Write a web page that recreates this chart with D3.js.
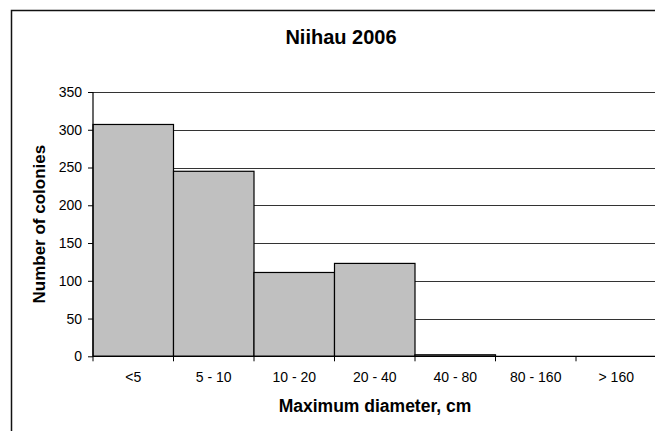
<!DOCTYPE html>
<html>
<head>
<meta charset="utf-8">
<script src="https://cdn.jsdelivr.net/npm/d3@7"></script>
<style>
  html, body { margin: 0; padding: 0; background: #fff; }
  svg { display: block; font-family: "Liberation Sans", Arial, sans-serif; }
</style>
</head>
<body>
<svg id="chart" width="655" height="431"></svg>
<script>
// Colony size classes (maximum diameter, cm) and counts
const categories = ["<5", "5 - 10", "10 - 20", "20 - 40", "40 - 80", "80 - 160", "> 160"];
const colonies = [307, 245, 111, 123, 2, 0, 0];
const yTicks = [0, 50, 100, 150, 200, 250, 300, 350];

const chartTitle = "Niihau 2006";
const xTitle = "Maximum diameter, cm";
const yTitle = "Number of colonies";

const svg = d3.select("#chart");

const plot = { left: 93, right: 656.5, top: 92, bottom: 356.3 };

const x = d3.scaleBand()
  .domain(categories)
  .range([plot.left, plot.right])
  .padding(0);

const y = d3.scaleLinear()
  .domain([0, 350])
  .range([plot.bottom, plot.top]);

// Outer chart frame
svg.append("rect")
  .attr("x", 11.5).attr("y", 10.5)
  .attr("width", 660).attr("height", 440)
  .attr("fill", "none")
  .attr("stroke", "#111")
  .attr("stroke-width", 1.5);

// Horizontal gridlines
svg.append("g")
  .selectAll("line")
  .data(yTicks.filter(d => d > 0))
  .join("line")
  .attr("x1", plot.left).attr("x2", plot.right)
  .attr("y1", d => Math.round(y(d)) + 0.5)
  .attr("y2", d => Math.round(y(d)) + 0.5)
  .attr("stroke", "#333")
  .attr("stroke-width", 1.2);

// Bars
svg.append("g")
  .selectAll("rect")
  .data(categories.map((c, i) => ({ c, v: colonies[i] })))
  .join("rect")
  .attr("x", d => x(d.c))
  .attr("y", d => y(d.v))
  .attr("width", x.bandwidth())
  .attr("height", d => y(0) - y(d.v))
  .attr("fill", "#c0c0c0")
  .attr("stroke", "#000")
  .attr("stroke-width", 1.2);

// Y axis
const yAxis = svg.append("g")
  .attr("transform", `translate(${plot.left},0)`)
  .call(d3.axisLeft(y).tickValues(yTicks).tickSize(5).tickPadding(6).tickFormat(d3.format("d")));
yAxis.select(".domain").attr("stroke", "#000").attr("stroke-width", 1.2).attr("d", `M0,${plot.top}V${plot.bottom}`);
yAxis.selectAll(".tick line").attr("stroke", "#000");
yAxis.selectAll(".tick text")
  .attr("font-size", 14)
  .attr("font-family", "Liberation Sans, Arial, sans-serif")
  .attr("fill", "#000");

// X axis: ticks at category boundaries
const boundaries = categories.map(c => x(c)).concat([plot.right]);
const xAxisG = svg.append("g");
xAxisG.append("line")
  .attr("x1", plot.left).attr("x2", plot.right)
  .attr("y1", plot.bottom).attr("y2", plot.bottom)
  .attr("stroke", "#000").attr("stroke-width", 1.2);
xAxisG.selectAll("line.tk")
  .data(boundaries)
  .join("line")
  .attr("class", "tk")
  .attr("x1", d => d).attr("x2", d => d)
  .attr("y1", plot.bottom).attr("y2", plot.bottom + 5)
  .attr("stroke", "#000");
xAxisG.selectAll("text")
  .data(categories)
  .join("text")
  .attr("x", d => x(d) + x.bandwidth() / 2)
  .attr("y", 382)
  .attr("text-anchor", "middle")
  .attr("font-size", 14)
  .attr("fill", "#000")
  .text(d => d);

// Titles
svg.append("text")
  .attr("x", 341).attr("y", 44)
  .attr("text-anchor", "middle")
  .attr("font-size", 20)
  .attr("font-weight", "bold")
  .text(chartTitle);

svg.append("text")
  .attr("x", 375).attr("y", 412)
  .attr("text-anchor", "middle")
  .attr("font-size", 17.5)
  .attr("font-weight", "bold")
  .text(xTitle);

svg.append("text")
  .attr("transform", `translate(45,${(plot.top + plot.bottom) / 2}) rotate(-90)`)
  .attr("text-anchor", "middle")
  .attr("font-size", 17)
  .attr("font-weight", "bold")
  .text(yTitle);
</script>
</body>
</html>
